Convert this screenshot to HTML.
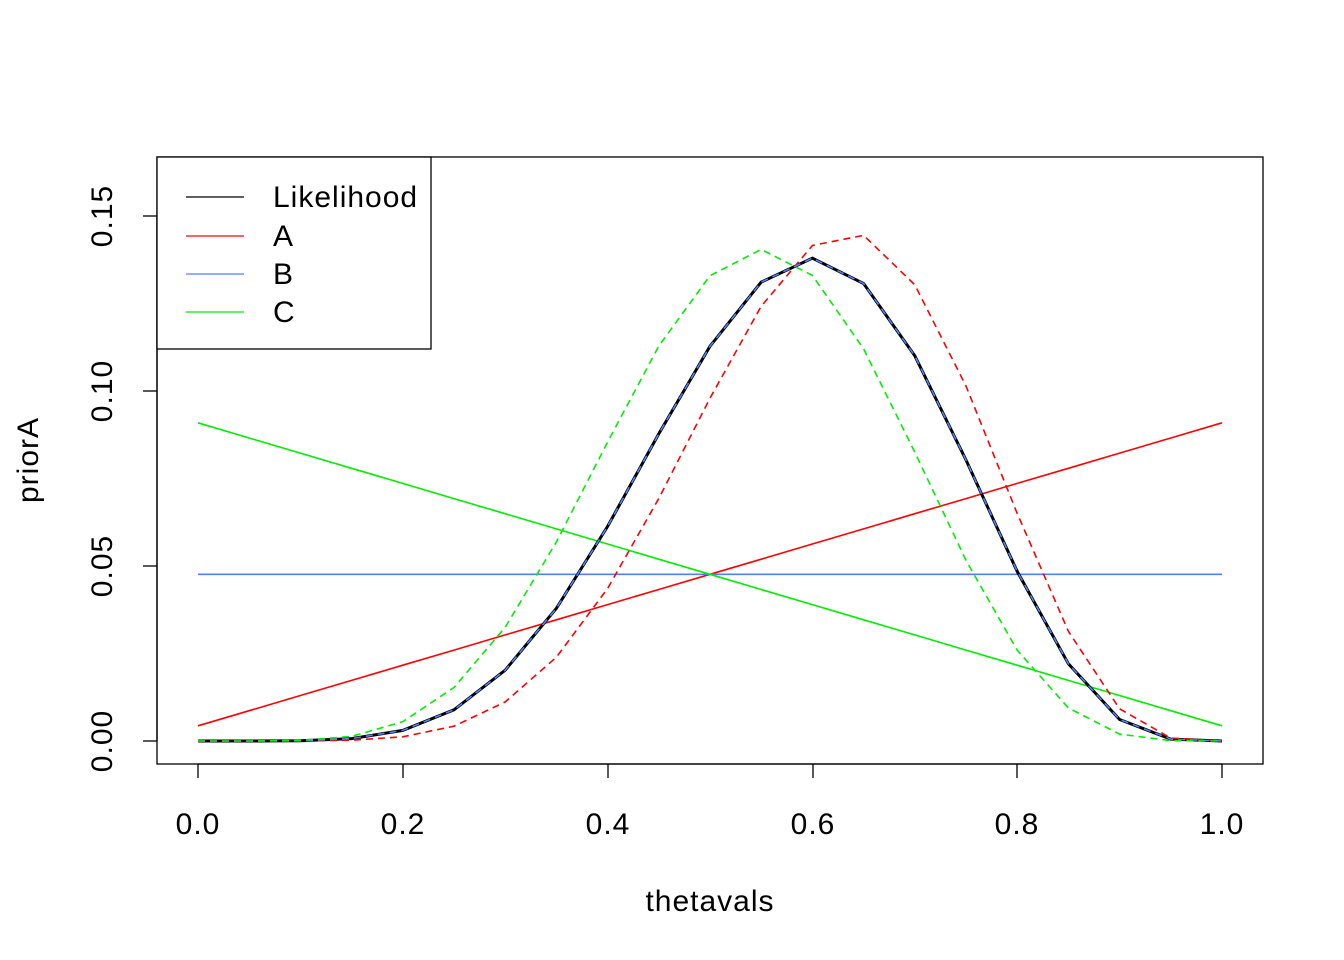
<!DOCTYPE html>
<html><head><meta charset="utf-8"><style>
html,body{margin:0;padding:0;background:#fff;}
svg{display:block;font-family:"Liberation Sans",Arial,sans-serif;}
</style></head><body>
<svg id="s" width="1344" height="960" viewBox="0 0 1344 960" xmlns="http://www.w3.org/2000/svg">
<rect width="1344" height="960" fill="#fff"/>
<g id="plot"></g>
<rect x="157" y="157" width="1106" height="607" fill="none" stroke="#000" stroke-width="1.3"/>
<g stroke="#000" stroke-width="1.3">
<line x1="198" y1="764" x2="1222" y2="764"/>
<line x1="198" y1="764" x2="198" y2="778"/>
<line x1="403" y1="764" x2="403" y2="778"/>
<line x1="608" y1="764" x2="608" y2="778"/>
<line x1="813" y1="764" x2="813" y2="778"/>
<line x1="1017" y1="764" x2="1017" y2="778"/>
<line x1="1222" y1="764" x2="1222" y2="778"/>
<line x1="157" y1="741" x2="157" y2="216"/>
<line x1="157" y1="741" x2="143" y2="741"/>
<line x1="157" y1="566" x2="143" y2="566"/>
<line x1="157" y1="391" x2="143" y2="391"/>
<line x1="157" y1="216" x2="143" y2="216"/>
</g>
<g font-size="30" letter-spacing="1" text-anchor="middle" fill="#000">
<text x="198" y="834">0.0</text>
<text x="403" y="834">0.2</text>
<text x="608" y="834">0.4</text>
<text x="813" y="834">0.6</text>
<text x="1017" y="834">0.8</text>
<text x="1222" y="834">1.0</text>
<text transform="translate(112,741) rotate(-90)">0.00</text>
<text transform="translate(112,566) rotate(-90)">0.05</text>
<text transform="translate(112,391) rotate(-90)">0.10</text>
<text transform="translate(112,216) rotate(-90)">0.15</text>
<text x="710" y="911">thetavals</text>
<text transform="translate(38,460) rotate(-90)">priorA</text>
</g>
<rect x="157" y="157" width="274" height="192" fill="#fff" stroke="#000" stroke-width="1.3"/>
<g stroke-width="1.3">
<line x1="186" y1="197" x2="244" y2="197" stroke="#000"/>
<line x1="186" y1="236" x2="244" y2="236" stroke="#ff0000"/>
<line x1="186" y1="274" x2="244" y2="274" stroke="#4f7fff"/>
<line x1="186" y1="312" x2="244" y2="312" stroke="#00ee00"/>
</g>
<g font-size="30" letter-spacing="1" fill="#000">
<text x="273" y="207">Likelihood</text>
<text x="273" y="246">A</text>
<text x="273" y="284">B</text>
<text x="273" y="322">C</text>
</g>
</svg>
<script>
(function(){
var th=[],i;for(i=0;i<=20;i++)th.push(i/20);
function norm(a){var s=a.reduce(function(x,y){return x+y},0);return a.map(function(v){return v/s});}
var L=norm(th.map(function(t){return Math.pow(t,6)*Math.pow(1-t,4)}));
var A=norm(th.map(function(t){return 0.05+t}));
var C=norm(th.map(function(t){return 1.05-t}));
var B=norm(th.map(function(){return 1}));
function post(p){return norm(p.map(function(v,i){return v*L[i]}));}
function pts(a){return a.map(function(v,i){return (198+1024*th[i]).toFixed(1)+","+(741-3500*v).toFixed(1)}).join(" ");}
var g=document.getElementById("plot"),ns="http://www.w3.org/2000/svg";
function pl(a,c,w,d){var e=document.createElementNS(ns,"polyline");e.setAttribute("points",pts(a));e.setAttribute("fill","none");e.setAttribute("stroke",c);e.setAttribute("stroke-width",w);if(d)e.setAttribute("stroke-dasharray",d);g.appendChild(e);}
pl(A,"#ff0000",1.6);pl(B,"#4f7fff",1.6);pl(C,"#00ee00",1.6);
pl(L,"#000",3);
pl(post(A),"#ff0000",1.6,"7,5");
pl(post(B),"#4f7fff",1.6,"7,5");
pl(post(C),"#00ee00",1.6,"7,5");
})();
</script>
</body></html>
